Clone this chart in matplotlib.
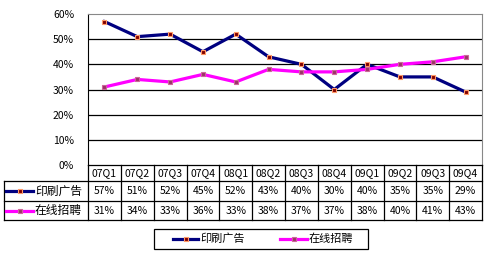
import matplotlib
matplotlib.use("Agg")
import matplotlib.pyplot as plt
from matplotlib.lines import Line2D

plt.rcParams['font.family'] = ['Noto Sans CJK SC', 'DejaVu Sans']

quarters = ['07Q1', '07Q2', '07Q3', '07Q4', '08Q1', '08Q2',
            '08Q3', '08Q4', '09Q1', '09Q2', '09Q3', '09Q4']
print_ads = [57, 51, 52, 45, 52, 43, 40, 30, 40, 35, 35, 29]
online_jobs = [31, 34, 33, 36, 33, 38, 37, 37, 38, 40, 41, 43]
series_names = ['印刷广告', '在线招聘']
colors = ['#000080', '#FF00FF']
marker_faces = ['#800000', '#993366']
marker_edges = ['#FF9966', '#CC6699']

W, H = 492, 254
fig = plt.figure(figsize=(W / 100, H / 100), dpi=100)


def px_rect(x0, y0, x1, y1):
    return [x0 / W, 1 - y1 / H, (x1 - x0) / W, (y1 - y0) / H]


# plot area
left, right, top, bottom = 88, 482, 14, 165
ax = fig.add_axes(px_rect(left, top, right, bottom))
n = len(quarters)
xs = list(range(n))
for vals, c, mf, me in zip([print_ads, online_jobs], colors, marker_faces, marker_edges):
    ax.plot(xs, vals, color=c, lw=2.3, marker='s', ms=3.2,
            mfc=mf, mec=me, mew=0.8, zorder=3)
ax.set_xlim(-0.5, n - 0.5)
ax.set_ylim(0, 60)
ax.set_yticks(range(0, 61, 10))
ax.set_yticklabels([f'{v}%' for v in range(0, 61, 10)], fontsize=7.5)
ax.tick_params(axis='y', length=0, pad=10)
ax.set_xticks([])
for v in range(10, 60, 10):
    ax.axhline(v, color='black', lw=0.9, zorder=1)
ax.spines['left'].set_color('black')
ax.spines['top'].set_color('#888888')
ax.spines['right'].set_color('#888888')
ax.spines['bottom'].set_visible(False)

# data table
tl, tr = 4, 482
yh0, yh1, yr1, yr2 = 165, 181, 201, 220
tax = fig.add_axes(px_rect(0, 0, W, H))
tax.set_xlim(0, W)
tax.set_ylim(H, 0)
tax.axis('off')
colw = (right - left) / n
lk = dict(color='black', lw=0.9)
tax.plot([left, tr], [yh0, yh0], **lk)
for y in (yh1, yr1, yr2):
    tax.plot([tl, tr], [y, y], **lk)
tax.plot([tl, tl], [yh1, yr2], **lk)
for i in range(n + 1):
    x = left + i * colw
    tax.plot([x, x], [yh0, yr2], **lk)
for i, q in enumerate(quarters):
    cx = left + (i + 0.5) * colw
    tax.text(cx, (yh0 + yh1) / 2, q, ha='center', va='center', fontsize=7.5)
    tax.text(cx, (yh1 + yr1) / 2, f'{print_ads[i]}%', ha='center', va='center', fontsize=7.5)
    tax.text(cx, (yr1 + yr2) / 2, f'{online_jobs[i]}%', ha='center', va='center', fontsize=7.5)
for (ya, yb), name, c, mf, me in zip([(yh1, yr1), (yr1, yr2)], series_names,
                                     colors, marker_faces, marker_edges):
    ym = (ya + yb) / 2
    tax.add_line(Line2D([6, 33], [ym, ym], color=c, lw=2.3))
    tax.add_line(Line2D([19.5], [ym], marker='s', ms=3.2, mfc=mf, mec=me, mew=0.8))
    tax.text(35, ym, name, ha='left', va='center', fontsize=8.5)

# legend box
lx0, ly0, lx1, ly1 = 154, 229, 368, 249
tax.add_patch(plt.Rectangle((lx0, ly0), lx1 - lx0, ly1 - ly0, fill=False,
                            ec='black', lw=0.9))
lym = (ly0 + ly1) / 2
for (a, b), name, c, mf, me in zip([(173, 198), (280, 307)], series_names,
                                   colors, marker_faces, marker_edges):
    tax.add_line(Line2D([a, b], [lym, lym], color=c, lw=2.3))
    tax.add_line(Line2D([(a + b) / 2], [lym], marker='s', ms=3.2, mfc=mf, mec=me, mew=0.8))
    tax.text(b + 2, lym, name, ha='left', va='center', fontsize=8)

fig.savefig('out.png', dpi=100)
